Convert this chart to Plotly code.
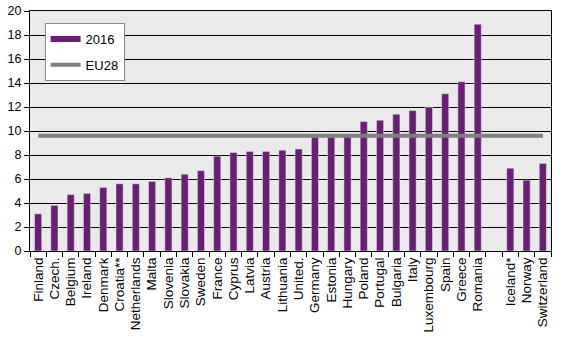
import plotly.graph_objects as go

countries = ["Finland", "Czech.", "Belgium", "Ireland", "Denmark", "Croatia**", "Netherlands",
             "Malta", "Slovenia", "Slovakia", "Sweden", "France", "Cyprus", "Latvia", "Austria",
             "Lithuania", "United.", "Germany", "Estonia", "Hungary", "Poland", "Portugal",
             "Bulgaria", "Italy", "Luxembourg", "Spain", "Greece", "Romania",
             " ", "Iceland*", "Norway", "Switzerland"]
values_2016 = [3.1, 3.8, 4.7, 4.8, 5.3, 5.6, 5.6, 5.8, 6.1, 6.4, 6.7, 7.9, 8.2, 8.3, 8.3,
               8.4, 8.5, 9.5, 9.5, 9.6, 10.8, 10.9, 11.4, 11.7, 12.0, 13.1, 14.1, 18.9,
               None, 6.9, 5.9, 7.3]
eu28 = 9.6

purple = "#6A1E74"
grey = "#808080"

fig = go.Figure()
fig.add_trace(go.Bar(x=countries, y=values_2016, marker_color=purple, showlegend=False))
fig.add_trace(go.Scatter(x=[countries[0], countries[-1]], y=[eu28, eu28], mode="lines",
                         line=dict(color=grey, width=4), showlegend=False, hoverinfo="skip"))
fig.add_trace(go.Scatter(x=[None], y=[None], mode="lines", name="2016",
                         line=dict(color=purple, width=6), legendgroup="a"))
fig.add_trace(go.Scatter(x=[None], y=[None], mode="lines", name="EU28",
                         line=dict(color=grey, width=4), legendgroup="b"))

fig.update_layout(
    width=567, height=340,
    margin=dict(l=30, r=16, t=11, b=89, autoexpand=False),
    paper_bgcolor="white", plot_bgcolor="#EAEAEA",
    font=dict(family="Liberation Sans, Arial, sans-serif", size=12, color="black"),
    bargap=0.56,
    legend=dict(x=0.028, y=0.95, xanchor="left", yanchor="top",
                bgcolor="white", bordercolor="#888888", borderwidth=1,
                tracegroupgap=6, font=dict(size=13)),
)
fig.update_xaxes(type="category", categoryorder="array", categoryarray=countries,
                 tickangle=-90, ticks="outside", ticklen=5, tickcolor="black",
                 tickfont=dict(size=13.5), automargin=False,
                 tickson="boundaries", showline=True, linecolor="black", linewidth=1,
                 mirror=True, showgrid=False, range=[-0.5, len(countries) - 0.5])
fig.update_yaxes(range=[0, 20], dtick=2, ticks="outside", ticklen=5, tickcolor="black",
                 tickfont=dict(size=12.5), automargin=False,
                 showline=True, linecolor="black", linewidth=1, mirror=True,
                 showgrid=True, gridcolor="black", gridwidth=1, zeroline=False)

fig.write_html("out.html")
